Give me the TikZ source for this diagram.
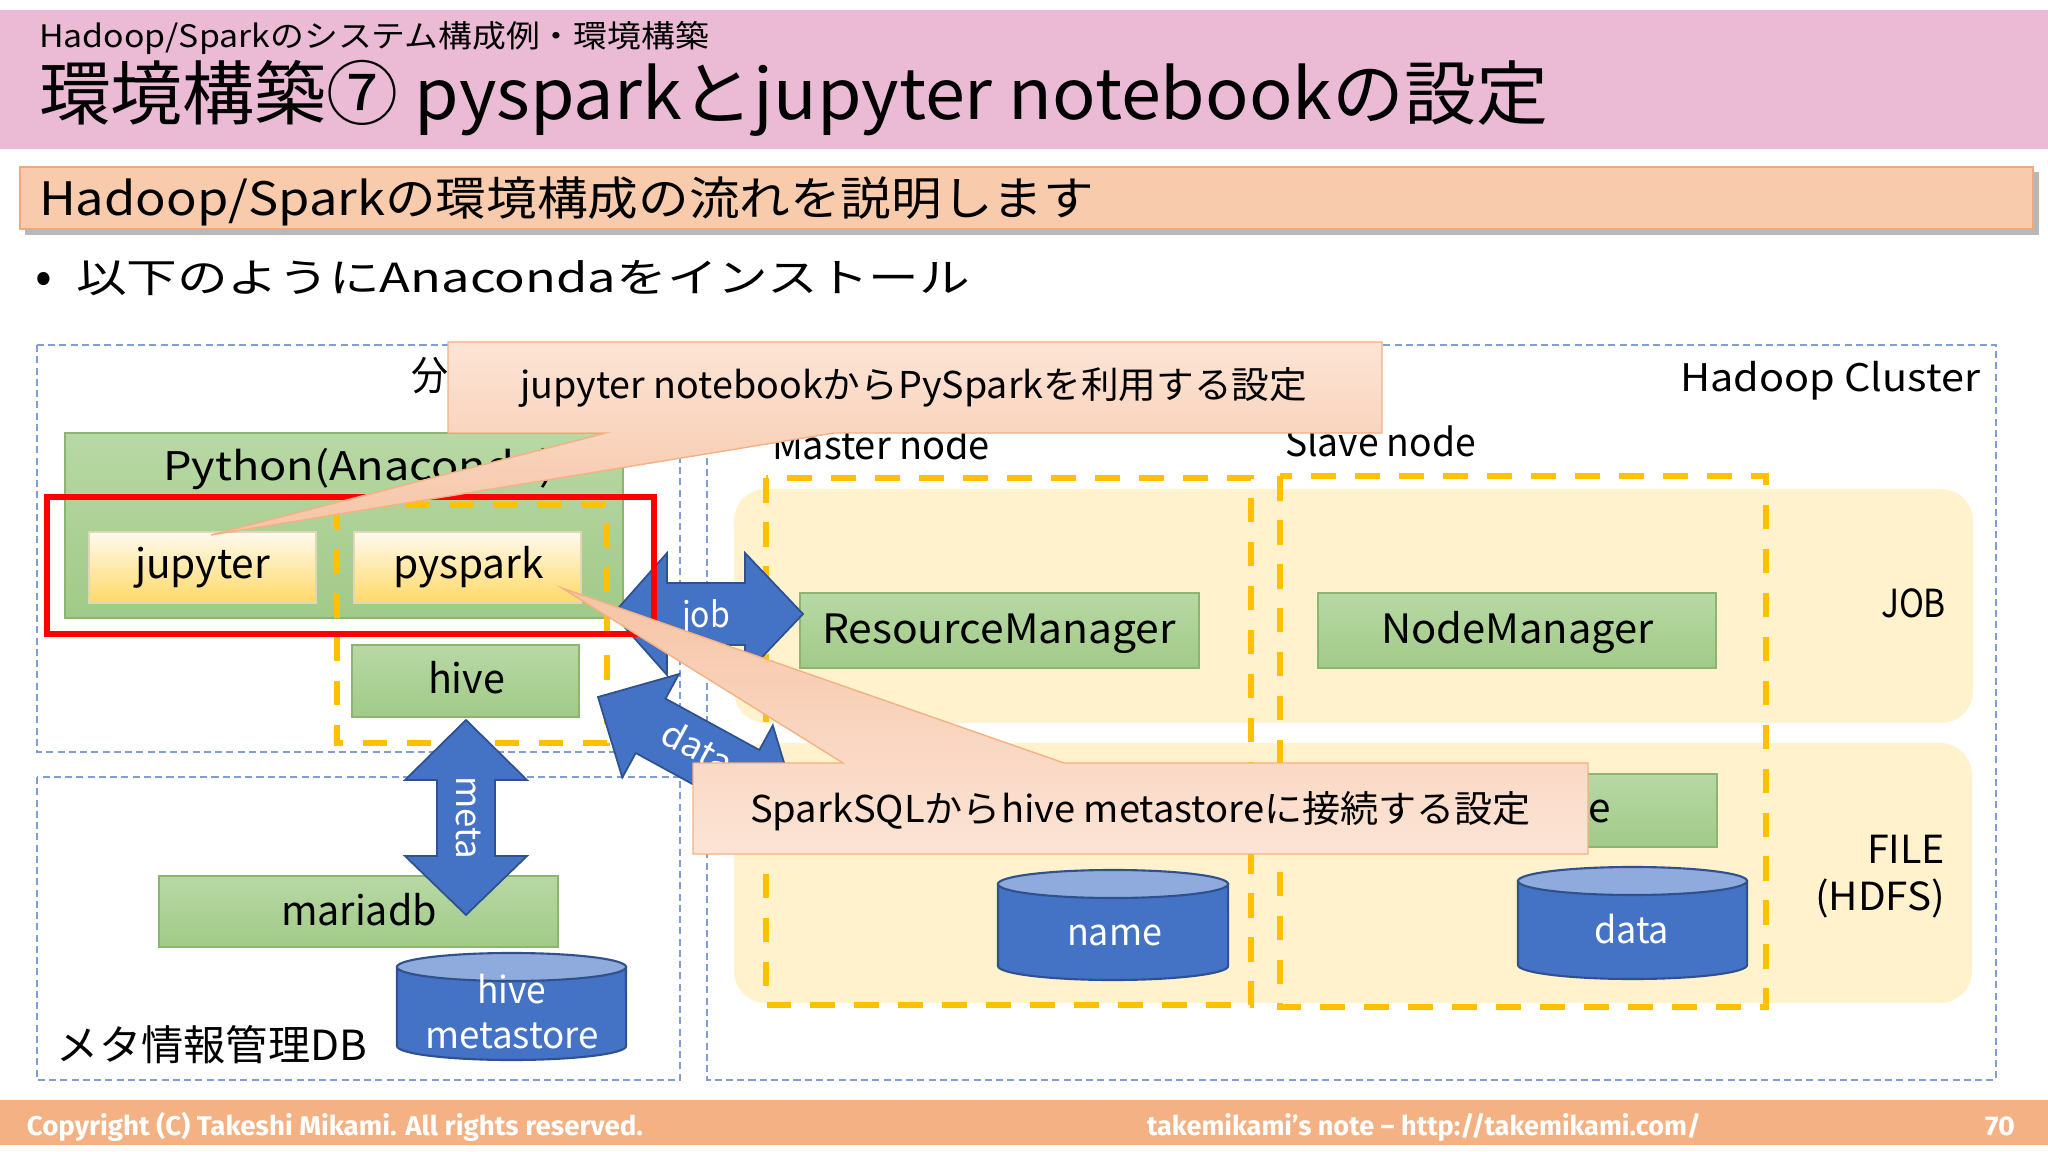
\documentclass[tikz,border=0pt]{standalone}
\usepackage{fontspec}
\setmainfont{Noto Sans CJK JP}
\newfontfamily\footfont{Fira Sans}
\usepackage{graphicx}
\newlength\pxu
\setlength\pxu{0.01cm}
\newcommand\fs[1]{\fontsize{#1pt}{#1pt}\selectfont}
\newcommand\fitx[2]{\resizebox{#1\pxu}{\height}{#2}}
\definecolor{pinkband}{HTML}{EBBAD5}
\definecolor{orgband}{HTML}{F8CBAD}
\definecolor{orgbrd}{HTML}{EDAA80}
\definecolor{footc}{HTML}{F4B183}
\definecolor{gtop}{HTML}{B8D8A5}
\definecolor{gbot}{HTML}{A1CA88}
\definecolor{gbrd}{HTML}{8CB56F}
\definecolor{ytop}{HTML}{FFFAEE}
\definecolor{ybot}{HTML}{FFD966}
\definecolor{ybrd}{HTML}{E0D6B8}
\definecolor{dashc}{HTML}{7F9ED4}
\definecolor{yd}{HTML}{FFC000}
\definecolor{lyel}{HTML}{FFF2CC}
\definecolor{bfill}{HTML}{4472C4}
\definecolor{bbrd}{HTML}{2F528F}
\definecolor{ctop}{HTML}{8FAADC}
\definecolor{cbrd}{HTML}{F4B183}
\definecolor{caA}{HTML}{FCE4D6}
\definecolor{caB}{HTML}{F6C4A5}
\definecolor{redc}{HTML}{FF0000}
\begin{document}
\begin{tikzpicture}[x=0.01cm,y=-0.01cm,
  lb/.style={inner sep=0pt,outer sep=0pt,anchor=base west},
  gbox/.style={top color=gtop,bottom color=gbot,draw=gbrd,line width=0.5pt},
  ybox/.style={top color=ytop,bottom color=ybot,draw=ybrd,line width=0.5pt},
  odash/.style={draw=dashc,line width=0.45pt,dash pattern=on 2pt off 1.2pt},
  ydash/.style={draw=yd,line width=1.7pt,dash pattern=on 7pt off 5.5pt},
  barrow/.style={fill=bfill,draw=bbrd,line width=0.5pt},
  cylbody/.style={fill=bfill,draw=bbrd,line width=0.6pt},
  cyltop/.style={fill=ctop,draw=bbrd,line width=0.6pt},
  callout/.style={draw=cbrd,line width=0.4pt},
  wt/.style={text=white}]
\useasboundingbox (0,0) rectangle (2048,1152);
\fill[white] (0,0) rectangle (2048,1152);
% header
\fill[pinkband] (0,10) rectangle (2048,149);
\fill[black,opacity=0.28] (25,172) rectangle (2039,235);
\path[fill=orgband,draw=orgbrd,line width=0.4pt] (20,167) rectangle (2033,229);
\fill[footc] (0,1100) rectangle (2048,1145);
\node[lb] (sub) at (39,48) {\fs{8.8}\fitx{670}{Hadoop/Sparkのシステム構成例・環境構築}};
\node[lb] (title) at (39,120) {\fs{19.9}\fitx{1509}{環境構築⑦ pysparkとjupyter notebookの設定}};
\node[lb] (band) at (39,216) {\fs{13.1}\fitx{1055}{Hadoop/Sparkの環境構成の流れを説明します}};
\node[inner sep=0pt] (bul) at (44,283) {\fs{14}•};
\node[lb] (inst) at (76,293) {\fs{11.4}\fitx{894}{以下のようにAnacondaをインストール}};
% footer
\node[lb,wt] (copy) at (27,1135) {\footfont\bfseries\fs{7.7}\fitx{616}{Copyright (C) Takeshi Mikami. All rights reserved.}};
\node[lb,wt] (note) at (1147,1135) {\footfont\bfseries\fs{7.7}\fitx{554}{takemikami’s note – http://takemikami.com/}};
\node[lb,wt] (page) at (1985,1135) {\footfont\bfseries\fs{7.7}\fitx{30}{70}};
% outer dashed areas
\path[odash] (37,345) rectangle (680,752);
\path[odash] (37,777) rectangle (680,1080);
\path[odash] (707,345) rectangle (1996,1080);
% JOB / FILE bands
\fill[lyel,rounded corners=0.32cm] (734,489) rectangle (1973,723);
\fill[lyel,rounded corners=0.32cm] (734,743) rectangle (1972,1003);
% master / slave
\path[ydash] (766,478) rectangle (1251,1005);
\path[ydash] (1280,476) rectangle (1766,1007);
% green boxes in cluster
\path[gbox] (800,593) rectangle (1199,668);
\path[gbox] (1318,593) rectangle (1716,668);
\path[gbox] (1318,774) rectangle (1717,847);
% cylinders
\path[cylbody] (998,884) -- (998,966) arc[start angle=180,end angle=360,x radius=1.15cm,y radius=0.14cm] -- (1228,884) -- cycle;
\path[cyltop] (1113,884) ellipse [x radius=1.15cm,y radius=0.14cm];
\path[cylbody] (1518,881) -- (1518,965) arc[start angle=180,end angle=360,x radius=1.145cm,y radius=0.14cm] -- (1747,881) -- cycle;
\path[cyltop] (1632.5,881) ellipse [x radius=1.145cm,y radius=0.14cm];
\path[cylbody] (397,967) -- (397,1046) arc[start angle=180,end angle=360,x radius=1.145cm,y radius=0.14cm] -- (626,967) -- cycle;
\path[cyltop] (511.5,967) ellipse [x radius=1.145cm,y radius=0.14cm];
% left side boxes
\path[gbox] (159,876) rectangle (558,947);
\path[gbox] (65,433) rectangle (623,618);
\path[ybox] (89,532) rectangle (316,603);
\path[ybox] (354,532) rectangle (581,603);
\path[gbox] (352,645) rectangle (579,717);
\path[ydash] (337,505) rectangle (607,743);
% block arrows
\path[barrow] (466,720) -- (527,780) -- (495,780) -- (495,856) -- (527,856) -- (466,915) -- (405,856) -- (437,856) -- (437,780) -- (405,780) -- cycle;
\path[barrow] (613,614) -- (667,553) -- (667,583) -- (745,583) -- (745,553) -- (803,614) -- (745,675) -- (745,645) -- (667,645) -- (667,675) -- cycle;
\begin{scope}[shift={(598,697)},rotate=-28.7]
\path[barrow] (0,0) -- (60,-59) -- (60,-31) -- (167,-31) -- (167,-59) -- (227,0) -- (167,59) -- (167,31) -- (60,31) -- (60,59) -- cycle;
\node[inner sep=0pt,anchor=mid,transform shape,wt] (datat) at (112,0) {\fs{10}\fitx{75}{data}};
\end{scope}
% red highlight
\draw[redc,line width=1.7pt] (47,497) rectangle (654,634);
% labels
\node[lb] (bun) at (411,391) {\fs{11.5}\fitx{37}{分}};
\node[lb] (py) at (163,480) {\fs{11.2}\fitx{392}{Python(Anaconda)}};
\node[lb] (jup) at (135,579) {\fs{11.5}\fitx{135}{jupyter}};
\node[lb] (pys) at (393,579) {\fs{11.5}\fitx{151}{pyspark}};
\node[lb] (hv) at (428,693) {\fs{11.5}\fitx{77}{hive}};
\node[lb] (mdb) at (281,925) {\fs{11.5}\fitx{156}{mariadb}};
\node[lb] (rm) at (822,643) {\fs{11.5}\fitx{354}{ResourceManager}};
\node[lb] (nm) at (1381,643) {\fs{11.5}\fitx{273}{NodeManager}};
\node[lb,anchor=base east] (dn) at (1611,822) {\fs{11.5}DataNode};
\node[lb] (mn) at (772,460) {\fs{11}\fitx{218}{Master node}};
\node[lb] (sn) at (1285,457) {\fs{11}\fitx{191}{Slave node}};
\node[lb] (hc) at (1680,392) {\fs{10.8}\fitx{300}{Hadoop Cluster}};
\node[lb] (jb) at (1881,618) {\fs{11}\fitx{65}{JOB}};
\node[lb] (fl) at (1867,863) {\fs{11}\fitx{78}{FILE}};
\node[lb] (hd) at (1815,910) {\fs{11}\fitx{130}{(HDFS)}};
\node[lb,wt] (nmt) at (1067,945) {\fs{10.5}\fitx{95}{name}};
\node[lb,wt] (dtt) at (1594,943) {\fs{10.5}\fitx{75}{data}};
\node[lb,wt] (hvc) at (477,1003) {\fs{10.5}\fitx{69}{hive}};
\node[lb,wt] (mst) at (425,1048) {\fs{10.5}\fitx{174}{metastore}};
\node[lb] (mdbl) at (57,1060) {\fs{11.8}\fitx{310}{メタ情報管理DB}};
\node[lb,wt] (jobt) at (682,627) {\fs{10}\fitx{48}{job}};
\node[inner sep=0pt,anchor=mid,rotate=-90,wt] (metat) at (466,818) {\fs{10}\fitx{83}{meta}};
% callouts
\path[callout,top color=caA,bottom color=caB] (448,342) -- (1382,342) -- (1382,433) -- (834,433) -- (211,535) -- (606,433) -- (448,433) -- cycle;
\node[lb] (c1t) at (520,399) {\fs{10.5}\fitx{787}{jupyter notebookからPySparkを利用する設定}};
\path[callout,top color=caB,bottom color=caA] (693,763) -- (843,763) -- (562,588) -- (1064,763) -- (1588,763) -- (1588,854) -- (693,854) -- cycle;
\node[lb] (c2t) at (750,822) {\fs{10.5}\fitx{781}{SparkSQLからhive metastoreに接続する設定}};
\end{tikzpicture}
\end{document}
